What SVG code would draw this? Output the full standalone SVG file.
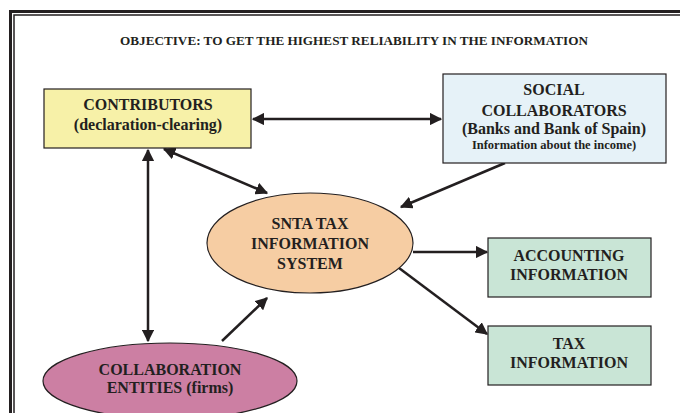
<svg xmlns="http://www.w3.org/2000/svg" width="680" height="413" viewBox="0 0 680 413">
<style>
text{font-family:"Liberation Serif","Times New Roman",serif;font-weight:bold;fill:#231f20;text-anchor:middle}
.t{font-size:16px}
.s{font-size:12.5px}
.ti{font-size:13px}
.box{stroke:#231f20;stroke-width:1.2}
.c{stroke:#231f20;stroke-width:2.5;fill:none}
</style>
<defs>
<marker id="ah" viewBox="0 0 10 10" refX="9" refY="5" markerWidth="5" markerHeight="5" orient="auto-start-reverse" markerUnits="strokeWidth">
<path d="M0,0 L10,5 L0,10 z" fill="#231f20"/>
</marker>
</defs>
<rect width="680" height="413" fill="#fff"/>
<g id="frame">
<path d="M10.5,413 V11.5 H680" fill="none" stroke="#231f20" stroke-width="3"/>
<path d="M14,413 V15 H680" fill="none" stroke="#231f20" stroke-width="1.5"/>
</g>
<g id="title"><text x="354" y="45" class="ti" textLength="468" lengthAdjust="spacingAndGlyphs">OBJECTIVE: TO GET THE HIGHEST RELIABILITY IN THE INFORMATION</text></g>
<g id="connectors">
<line class="c" x1="253" y1="119" x2="441" y2="119" marker-start="url(#ah)" marker-end="url(#ah)"/>
<line class="c" x1="164" y1="149" x2="267" y2="193" marker-start="url(#ah)" marker-end="url(#ah)"/>
<line class="c" x1="505" y1="163" x2="401" y2="207" marker-end="url(#ah)"/>
<line class="c" x1="148" y1="150" x2="148" y2="341" marker-start="url(#ah)" marker-end="url(#ah)"/>
<line class="c" x1="222" y1="341" x2="267" y2="298" marker-end="url(#ah)"/>
<line class="c" x1="413" y1="252" x2="487" y2="252" marker-end="url(#ah)"/>
<line class="c" x1="399" y1="268" x2="487" y2="334" marker-end="url(#ah)"/>
</g>
<g id="contributors">
<rect class="box" x="44" y="89" width="207" height="59" fill="#f7f1a8"/>
<text x="148" y="110" class="t">CONTRIBUTORS</text>
<text x="148" y="130" class="t">(declaration-clearing)</text>
</g>
<g id="social">
<rect class="box" x="443" y="74" width="223" height="89" fill="#e6f2f8"/>
<text x="554" y="95" class="t">SOCIAL</text>
<text x="554" y="116" class="t">COLLABORATORS</text>
<text x="554" y="134" class="t">(Banks and Bank of Spain)</text>
<text x="554" y="149" class="s">Information about the income)</text>
</g>
<g id="snta">
<ellipse class="box" cx="310" cy="243" rx="103" ry="50" fill="#f6cda3"/>
<text x="310" y="229" class="t">SNTA TAX</text>
<text x="310" y="249" class="t">INFORMATION</text>
<text x="310" y="269" class="t">SYSTEM</text>
</g>
<g id="accounting">
<rect class="box" x="488" y="238" width="163" height="59" fill="#c9e5d6"/>
<text x="569" y="261" class="t">ACCOUNTING</text>
<text x="569" y="280" class="t">INFORMATION</text>
</g>
<g id="tax">
<rect class="box" x="488" y="326" width="163" height="59" fill="#c9e5d6"/>
<text x="569" y="349" class="t">TAX</text>
<text x="569" y="368" class="t">INFORMATION</text>
</g>
<g id="collaboration">
<ellipse class="box" cx="170" cy="381" rx="127" ry="38" fill="#cc7fa3"/>
<text x="170" y="375" class="t">COLLABORATION</text>
<text x="170" y="393" class="t">ENTITIES (firms)</text>
</g>
</svg>
